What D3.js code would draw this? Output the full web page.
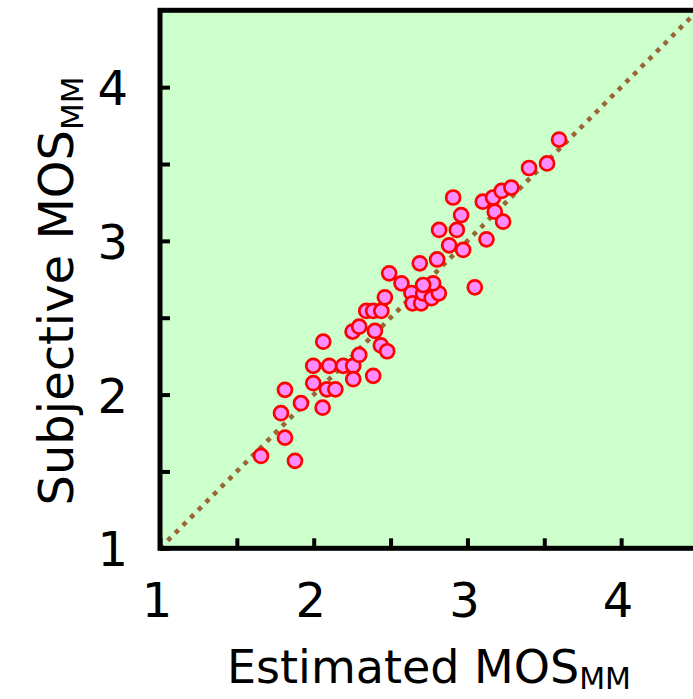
<!DOCTYPE html>
<html>
<head>
<meta charset="utf-8">
<script src="https://cdn.jsdelivr.net/npm/d3@7"></script>
<style>
  body { margin: 0; background: #fff; }
  text { font-family: "DejaVu Sans", sans-serif; fill: #000; }
</style>
</head>
<body>
<div id="chart"></div>
<script>
// estimated vs subjective MOS
var estimated = [1.657, 1.878, 1.813, 1.787, 1.813, 1.917, 2.058, 1.997, 1.997, 2.101,
  2.192, 2.257, 2.257, 2.086, 2.141, 2.062, 2.387, 2.296, 2.253, 2.296,
  2.398, 2.437, 2.478, 2.342, 2.387, 2.440, 2.463, 2.491, 2.571, 2.636,
  2.643, 2.699, 2.712, 2.767, 2.814, 2.777, 2.712, 2.690, 2.803, 2.881,
  2.972, 2.816, 2.931, 2.959, 3.124, 3.048, 2.907, 3.100, 3.167, 3.178,
  3.232, 3.223, 3.286, 3.401, 3.518, 3.596];
var subjective = [1.601, 1.569, 1.720, 1.879, 2.031, 1.944, 1.915, 2.074, 2.187, 2.187,
  2.187, 2.187, 2.100, 2.034, 2.034, 2.344, 2.122, 2.258, 2.410, 2.442,
  2.414, 2.320, 2.282, 2.544, 2.544, 2.544, 2.633, 2.789, 2.724, 2.661,
  2.594, 2.594, 2.658, 2.627, 2.659, 2.724, 2.713, 2.854, 2.879, 2.971,
  2.941, 3.071, 3.071, 3.168, 3.010, 2.698, 3.282, 3.255, 3.282, 3.190,
  3.125, 3.325, 3.347, 3.474, 3.504, 3.659];
var majorTicks = [1, 2, 3, 4];
var minorTicks = [1.5, 2.5, 3.5];
var axisDomain = [1, 4.5];

var width = 693, height = 699;
var marginLeft = 160, marginTop = 10.3, size = 538;

var x = d3.scaleLinear().domain(axisDomain).range([marginLeft, marginLeft + size]);
var y = d3.scaleLinear().domain(axisDomain).range([marginTop + size, marginTop]);

var svg = d3.select("#chart").append("svg")
  .attr("width", width)
  .attr("height", height);

svg.append("rect")
  .attr("x", marginLeft).attr("y", marginTop)
  .attr("width", size).attr("height", size)
  .attr("fill", "#ccffcc");

// y = x reference line
svg.append("line")
  .attr("x1", x(1)).attr("y1", y(1))
  .attr("x2", x(4.5)).attr("y2", y(4.5))
  .attr("stroke", "#9a6636")
  .attr("stroke-width", 4.6)
  .attr("stroke-dasharray", "4.6,6.2");

svg.selectAll("circle")
  .data(estimated)
  .enter()
  .append("circle")
  .attr("cx", function(d) { return x(d); })
  .attr("cy", function(d, i) { return y(subjective[i]); })
  .attr("r", 7)
  .attr("fill", "#ff8cff")
  .attr("stroke", "#ff0000")
  .attr("stroke-width", 2.7);

// inward ticks, labels drawn separately below
var xAxis = d3.axisBottom(x).tickValues(majorTicks.concat(minorTicks))
  .tickSize(-10).tickFormat("");
var yAxis = d3.axisLeft(y).tickValues(majorTicks.concat(minorTicks))
  .tickSize(-10).tickFormat("");

var gx = svg.append("g").attr("transform", "translate(0," + (marginTop + size) + ")").call(xAxis);
var gy = svg.append("g").attr("transform", "translate(" + marginLeft + ",0)").call(yAxis);
gx.select(".domain").remove();
gy.select(".domain").remove();
svg.selectAll(".tick line").attr("stroke", "#000").attr("stroke-width", 4);

// frame
svg.append("rect")
  .attr("x", marginLeft).attr("y", marginTop)
  .attr("width", size).attr("height", size)
  .attr("fill", "none")
  .attr("stroke", "#000")
  .attr("stroke-width", 5);

svg.selectAll(".xlab")
  .data(majorTicks)
  .enter().append("text")
  .attr("class", "xlab")
  .attr("x", function(d) { return x(d) - 3; })
  .attr("y", 617)
  .attr("text-anchor", "middle")
  .style("font-size", "48px")
  .text(function(d) { return d; });

svg.selectAll(".ylab")
  .data(majorTicks)
  .enter().append("text")
  .attr("class", "ylab")
  .attr("x", 128)
  .attr("y", function(d) { return y(d) + 18; })
  .attr("text-anchor", "end")
  .style("font-size", "48px")
  .text(function(d) { return d; });

var xt = svg.append("text")
  .attr("x", marginLeft + size / 2)
  .attr("y", 683)
  .attr("text-anchor", "middle")
  .style("font-size", "46px");
xt.append("tspan").text("Estimated MOS");
xt.append("tspan").attr("dy", 6).style("font-size", "30px").text("MM");

var yt = svg.append("text")
  .attr("transform", "translate(73,291) rotate(-90)")
  .attr("text-anchor", "middle")
  .style("font-size", "48px");
yt.append("tspan").text("Subjective MOS");
yt.append("tspan").attr("dy", 10).style("font-size", "31px").text("MM");
</script>
</body>
</html>
